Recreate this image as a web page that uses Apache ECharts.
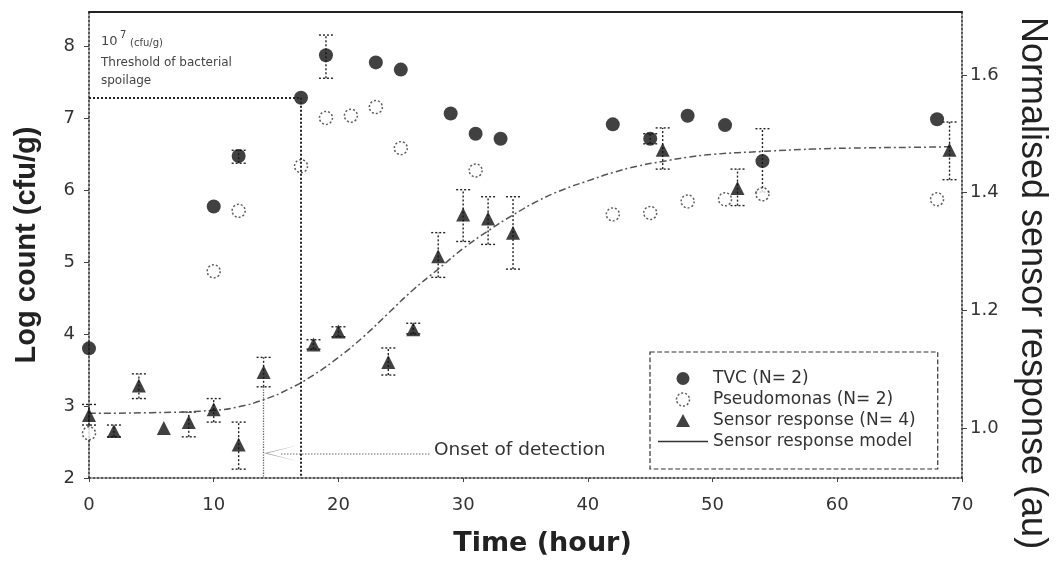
<!DOCTYPE html>
<html>
<head>
<meta charset="utf-8">
<script src="https://cdn.jsdelivr.net/npm/echarts@6/dist/echarts.min.js"></script>
<style>
  html, body { margin: 0; padding: 0; background: #fff; }
  #show { width: 1057px; height: 562px; }
</style>
</head>
<body>
<div id="show"></div>
<script>
// values
var tvc = [[0,3.8],[10,5.77],[12,6.47],[17,7.28],[19,7.87],[23,7.77],[25,7.67],[29,7.06],[31,6.78],[33,6.71],
           [42,6.91],[45,6.71],[48,7.03],[51,6.9],[54,6.4],[68,6.98]];
var tvcErr = [[12,6.37,6.55],[19,7.55,8.15],[45,6.64,6.78],[54,5.97,6.85]];
var pseudo = [[0,2.62],[10,4.87],[12,5.71],[17,6.33],[19,7.0],[21,7.03],[23,7.15],[25,6.58],[31,6.27],
              [42,5.66],[45,5.68],[48,5.84],[51,5.87],[54,5.94],[68,5.87]];
var sensor = [[0,1.022],[2,0.995],[4,1.072],[6,1.0],[8,1.01],[10,1.032],[12,0.972],[14,1.095],[18,1.142],
              [20,1.164],[24,1.112],[26,1.168],[28,1.292],[30,1.363],[32,1.356],[34,1.332],[46,1.473],
              [52,1.408],[69,1.473]];
var sensorErr = [[0,1.005,1.04],[2,0.985,1.005],[4,1.05,1.092],[8,0.985,1.027],[10,1.01,1.05],[12,0.93,1.01],
                 [14,1.07,1.12],[18,1.134,1.15],[20,1.155,1.172],[24,1.09,1.136],[26,1.16,1.178],
                 [28,1.256,1.332],[30,1.317,1.405],[32,1.312,1.393],[34,1.27,1.393],[46,1.44,1.51],
                 [52,1.378,1.44],[69,1.422,1.52]];
var model = [[0,1.025],[5,1.026],[10,1.03],[12,1.036],[14,1.048],[16,1.066],[18,1.09],[20,1.12],[22,1.155],
             [24,1.195],[26,1.235],[28,1.27],[30,1.305],[32,1.335],[34,1.362],[36,1.386],[38,1.405],
             [40,1.42],[42,1.434],[44,1.445],[46,1.453],[48,1.46],[50,1.465],[54,1.47],[58,1.474],
             [62,1.476],[66,1.477],[69,1.478]];
var leftTicks = [2,3,4,5,6,7,8];
var rightTicks = [1.0,1.2,1.4,1.6];
var threshold = 7.28, thresholdTime = 17, onsetTime = 14;

var myChart = echarts.init(document.getElementById('show'));

function errBar(params, api) {
    var x = api.value(0);
    var lo = api.coord([x, api.value(1)]);
    var hi = api.coord([x, api.value(2)]);
    var w = 7;
    var st = { stroke: '#222', lineWidth: 1.4, lineDash: [2, 2] };
    return {
        type: 'group',
        children: [
            { type: 'line', shape: { x1: lo[0], y1: lo[1], x2: hi[0], y2: hi[1] }, style: st },
            { type: 'line', shape: { x1: lo[0] - w, y1: lo[1], x2: lo[0] + w, y2: lo[1] }, style: st },
            { type: 'line', shape: { x1: hi[0] - w, y1: hi[1], x2: hi[0] + w, y2: hi[1] }, style: st }
        ]
    };
}

var tickFont = { fontFamily: 'DejaVu Sans', fontSize: 18, color: '#333' };
var frameDot = { color: '#222', width: 1.5, type: [2, 2] };

var option = {
    backgroundColor: '#fff',
    animation: false,
    grid: { left: 89, right: 95, top: 12, bottom: 83 },
    legend: {
        left: 650, top: 352,
        orient: 'vertical',
        symbolKeepAspect: true,
        data: [
            { name: 'TVC (N= 2)', icon: 'circle' },
            { name: 'Pseudomonas (N= 2)', icon: 'circle',
              itemStyle: { color: '#fff', borderColor: '#333', borderWidth: 1.5, borderType: [2, 2] } },
            { name: 'Sensor response (N= 4)', icon: 'path://M7,0 L14,13 L0,13 Z' },
            { name: 'Sensor response model', icon: 'path://M0,0 L50,0 L50,1.6 L0,1.6 Z',
              itemStyle: { color: '#333' } }
        ],
        itemWidth: 50, itemHeight: 13, itemGap: 4,
        padding: [18, 22, 19, 8],
        borderColor: '#333', borderWidth: 1.2, borderType: 'dashed',
        backgroundColor: '#fff',
        textStyle: { fontFamily: 'DejaVu Sans', fontSize: 17, color: '#333' }
    },
    xAxis: [{
        type: 'value', min: 0, max: 70, interval: 10,
        name: 'Time (hour)', nameLocation: 'middle', nameGap: 52,
        nameTextStyle: { fontFamily: 'DejaVu Sans', fontWeight: 'bold', fontSize: 27, color: '#222',
                         padding: [0, 0, 0, 34] },
        axisLine: { onZero: false, lineStyle: frameDot },
        axisTick: { length: 4, lineStyle: { color: '#444' } },
        axisLabel: Object.assign({ margin: 18 }, tickFont),
        splitLine: { show: false }
    }, {
        type: 'value', min: 0, max: 70, position: 'top',
        axisLine: { show: true, onZero: false, lineStyle: { color: '#222', width: 2 } },
        axisTick: { show: false }, axisLabel: { show: false }, splitLine: { show: false }
    }],
    yAxis: [{
        type: 'value', min: 2, max: 8.47,
        name: 'Log count (cfu/g)', nameLocation: 'middle', nameGap: 48,
        nameTextStyle: { fontFamily: 'Liberation Sans', fontWeight: 'bold', fontSize: 29, color: '#222' },
        axisLine: { onZero: false, lineStyle: frameDot },
        axisTick: { show: true, length: 5, customValues: leftTicks, lineStyle: { color: '#444' } },
        axisLabel: Object.assign({ margin: 14, customValues: leftTicks }, tickFont),
        splitLine: { show: false }
    }, {
        type: 'value', min: 0.915, max: 1.707, position: 'right',
        axisLine: { show: true, onZero: false, lineStyle: frameDot },
        axisTick: { show: true, length: 5, customValues: rightTicks, lineStyle: { color: '#444' } },
        axisLabel: Object.assign({ margin: 8, customValues: rightTicks, formatter: function (v) { return v.toFixed(1); } }, tickFont),
        splitLine: { show: false }
    }],
    graphic: [
        { type: 'text', left: 101, top: 35, style: { text: '10', fontFamily: 'DejaVu Sans', fontSize: 13, fill: '#444' } },
        { type: 'text', left: 120, top: 30, style: { text: '7', fontFamily: 'DejaVu Sans', fontSize: 10, fill: '#444' } },
        { type: 'text', left: 130, top: 38, style: { text: '(cfu/g)', fontFamily: 'DejaVu Sans', fontSize: 10, fill: '#444' } },
        { type: 'text', left: 101, top: 57, style: { text: 'Threshold of bacterial', fontFamily: 'DejaVu Sans', fontSize: 12, fill: '#444' } },
        { type: 'text', left: 101, top: 75, style: { text: 'spoilage', fontFamily: 'DejaVu Sans', fontSize: 12, fill: '#444' } },
        { type: 'text', left: 434, top: 441, style: { text: 'Onset of detection', fontFamily: 'DejaVu Sans', fontSize: 18.5, fill: '#333' } },
        { type: 'text', x: 1032, y: 283, rotation: -Math.PI / 2,
          style: { text: 'Normalised sensor response (au)', fontFamily: 'Liberation Sans', fontSize: 36, fill: '#222',
                   align: 'center', verticalAlign: 'middle' } }
    ],
    series: [
        {
            name: 'TVC err', type: 'custom', renderItem: errBar, data: tvcErr,
            encode: { x: 0, y: [1, 2] }, z: 1, silent: true
        },
        {
            name: 'Sensor err', type: 'custom', yAxisIndex: 1, renderItem: errBar, data: sensorErr,
            encode: { x: 0, y: [1, 2] }, z: 1, silent: true
        },
        {
            name: 'Sensor response model', type: 'line', yAxisIndex: 1, data: model,
            smooth: true, symbol: 'none',
            lineStyle: { color: '#555', width: 1.5, type: [7, 3, 2, 3] },
            markLine: {
                silent: true, symbol: ['none', 'path://M0,0 L10,30 L0,3 L-10,30 Z'], symbolSize: [16, 34],
                label: { show: false },
                lineStyle: { color: '#999', width: 1.5, type: 'dotted' },
                data: [[{ coord: [27.3, 0.957] }, { coord: [onsetTime + 1.4, 0.957] }]]
            }
        },
        {
            name: 'Sensor response (N= 4)', type: 'scatter', yAxisIndex: 1, data: sensor,
            symbol: 'triangle', symbolSize: 14, itemStyle: { color: '#111' }, z: 3,
            markLine: {
                silent: true, symbol: 'none', label: { show: false },
                lineStyle: { color: '#666', width: 1.3, type: 'dotted' },
                data: [[{ coord: [onsetTime, 1.07] }, { coord: [onsetTime, 0.915] }]]
            }
        },
        {
            name: 'Pseudomonas (N= 2)', type: 'scatter', data: pseudo,
            symbol: 'circle', symbolSize: 13,
            itemStyle: { color: '#fff', borderColor: '#333', borderWidth: 1.5, borderType: [2, 2] }, z: 3
        },
        {
            name: 'TVC (N= 2)', type: 'scatter', data: tvc,
            symbol: 'circle', symbolSize: 14, itemStyle: { color: '#111' }, z: 4,
            markLine: {
                silent: true, symbol: 'none', label: { show: false },
                lineStyle: { color: '#222', width: 2, type: 'dotted' },
                data: [
                    [{ coord: [0, threshold] }, { coord: [thresholdTime, threshold] }],
                    [{ coord: [thresholdTime, threshold] }, { coord: [thresholdTime, 2] }]
                ]
            }
        }
    ]
};
myChart.setOption(option);
</script>
</body>
</html>
